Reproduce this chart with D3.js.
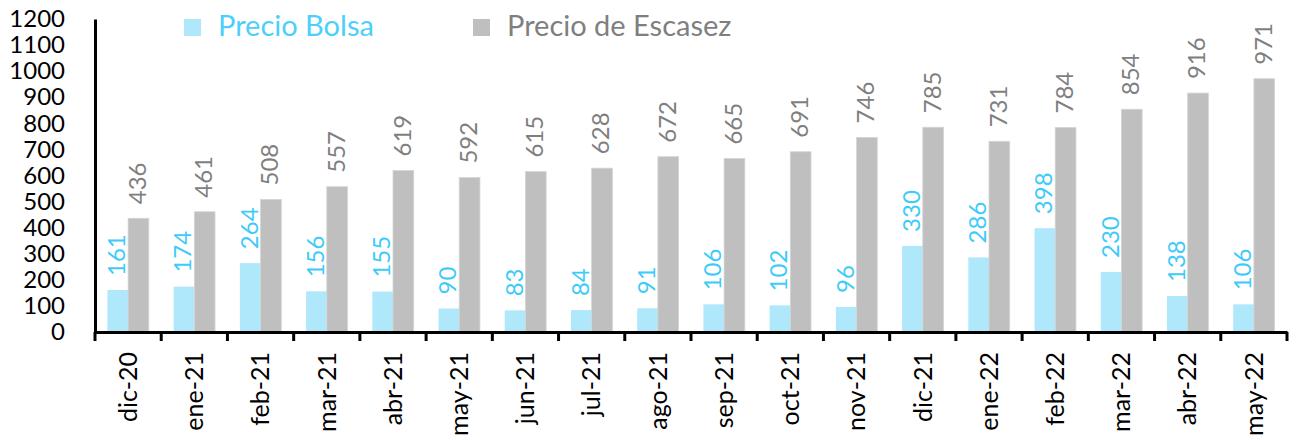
<!DOCTYPE html>
<html>
<head>
<meta charset="utf-8">
<script src="https://cdn.jsdelivr.net/npm/d3@7"></script>
<style>
  html, body { margin: 0; padding: 0; background: #fff; }
  svg text { font-family: Lato, "Open Sans", sans-serif; }
</style>
</head>
<body>
<div id="chart"></div>
<script>
const months = ["dic-20", "ene-21", "feb-21", "mar-21", "abr-21", "may-21", "jun-21", "jul-21", "ago-21",
  "sep-21", "oct-21", "nov-21", "dic-21", "ene-22", "feb-22", "mar-22", "abr-22", "may-22"];
const precioBolsa = [161, 174, 264, 156, 155, 90, 83, 84, 91, 106, 102, 96, 330, 286, 398, 230, 138, 106];
const precioEscasez = [436, 461, 508, 557, 619, 592, 615, 628, 672, 665, 691, 746, 785, 731, 784, 854, 916, 971];
const seriesNames = ["Precio Bolsa", "Precio de Escasez"];
const yTicks = [0, 100, 200, 300, 400, 500, 600, 700, 800, 900, 1000, 1100, 1200];

const barColors = ["#B0E8FB", "#BFBFBF"];
const textColors = ["#3FCBF9", "#7F7F7F"];

const W = 1298, H = 440;
const margin = { left: 95, right: 1287, top: 19, base: 332 };

const svg = d3.select("#chart").append("svg")
  .attr("width", W)
  .attr("height", H);

let x0 = d3.scaleBand()
  .domain(months)
  .range([margin.left, margin.right])
  .padding(0);

let x1 = d3.scaleBand()
  .domain(seriesNames)
  .range([0, x0.bandwidth()])
  .paddingInner(0)
  .paddingOuter(0.6);

let y = d3.scaleLinear()
  .domain([0, 1200])
  .range([margin.base, margin.top]);

const rows = months.map((m, i) => ({
  month: m,
  values: [
    { key: seriesNames[0], idx: 0, value: precioBolsa[i] },
    { key: seriesNames[1], idx: 1, value: precioEscasez[i] }
  ]
}));

// bars
const groups = svg.append("g")
  .selectAll("g")
  .data(rows)
  .enter()
  .append("g")
  .attr("transform", d => `translate(${x0(d.month)},0)`);

groups.selectAll("rect")
  .data(d => d.values)
  .enter()
  .append("rect")
  .attr("x", d => x1(d.key))
  .attr("y", d => y(d.value))
  .attr("width", x1.bandwidth())
  .attr("height", d => y(0) - y(d.value))
  .style("fill", d => barColors[d.idx])
  .style("stroke", d => d.idx === 1 ? "#D4D4D4" : "none")
  .style("stroke-width", "0.8px");

// value labels
groups.selectAll("text.val")
  .data(d => d.values)
  .enter()
  .append("text")
  .attr("class", "val")
  .attr("transform", d => `translate(${x1(d.key) + x1.bandwidth() / 2 - 1},${y(d.value) - 14}) rotate(-90)`)
  .attr("dy", "0.35em")
  .style("text-anchor", "start")
  .style("font-size", "24px")
  .style("fill", d => textColors[d.idx])
  .text(d => d.value);

// y axis
const yAxis = svg.append("g")
  .attr("transform", `translate(${margin.left},0)`)
  .call(d3.axisLeft(y).tickValues(yTicks).tickFormat(d3.format("d")).tickSize(0).tickPadding(30));
yAxis.select(".domain").style("stroke", "#000").style("stroke-width", "3px");
yAxis.selectAll("text").style("font-size", "24px").style("fill", "#000").style("font-family", "Lato, sans-serif");

// x axis
const xAxis = svg.append("g")
  .attr("transform", `translate(0,${margin.base})`)
  .call(d3.axisBottom(x0).tickSize(0).tickSizeOuter(0));
xAxis.select(".domain").style("stroke", "#000").style("stroke-width", "3px");
xAxis.selectAll("text")
  .attr("transform", "rotate(-90)")
  .attr("x", -20)
  .attr("y", 0)
  .attr("dy", "0.35em")
  .style("text-anchor", "end")
  .style("font-size", "25px")
  .style("fill", "#000")
  .style("font-family", "Lato, sans-serif");

// tick marks at category boundaries
const bounds = months.map(m => x0(m)).concat([x0.range()[1]]);
xAxis.selectAll("line.bound")
  .data(bounds)
  .enter()
  .append("line")
  .attr("class", "bound")
  .attr("x1", d => d)
  .attr("x2", d => d)
  .attr("y1", 0)
  .attr("y2", 9)
  .style("stroke", "#000")
  .style("stroke-width", "3px");

// legend
const legendX = [184, 473];
const legend = svg.append("g")
  .selectAll("g")
  .data(seriesNames)
  .enter()
  .append("g")
  .attr("transform", (d, i) => `translate(${legendX[i]},19)`);

legend.append("rect")
  .attr("width", 17)
  .attr("height", 17)
  .style("fill", (d, i) => barColors[i]);

legend.append("text")
  .attr("x", 34)
  .attr("y", 17)
  .style("font-size", "29px")
  .style("fill", (d, i) => i === 0 ? "#4DCFFC" : "#7F7F7F")
  .text(d => d);
</script>
</body>
</html>
